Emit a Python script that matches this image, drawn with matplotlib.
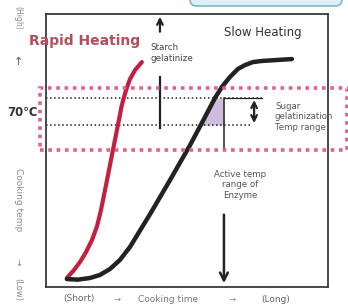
import matplotlib.pyplot as plt
import matplotlib.patches as mpatches
import numpy as np

# cooking time (0-100) vs cooking temp (0-100)
slow_time = [7.4, 11.3, 15.6, 19.1, 22.7, 26.2, 29.8, 36.9, 44.0, 51.1, 56.4, 59.9,
             62.4, 65.2, 68.1, 70.6, 73.4, 76.6, 87.2]
slow_temp = [2.9, 2.7, 3.3, 4.4, 6.6, 9.9, 14.7, 26.7, 39.2, 52.0, 62.3, 69.2,
             73.3, 76.9, 79.9, 81.3, 82.4, 82.8, 83.5]
rapid_time = [7.4, 9.9, 12.1, 14.2, 16.3, 18.1, 19.5, 21.3, 23.4, 25.5, 26.9, 28.4,
              29.8, 31.6, 34.0]
rapid_temp = [3.3, 6.2, 9.2, 12.8, 17.2, 22.3, 28.2, 37.4, 48.4, 59.3, 66.7, 72.2,
              76.2, 79.5, 82.4]

sugar_range = [59.3, 69.2]      # sugar gelatinization temp range
enzyme_range = [50.2, 72.9]     # active temp range of enzyme (pink box)
starch_time = 40.4
enzyme_time = 63.1

W, H = 348, 308
fig = plt.figure(figsize=(W / 100, H / 100), dpi=100)
fig.patch.set_facecolor('white')
ax = fig.add_axes([46 / W, 1 - 287 / H, 282 / W, 273 / H])
ax.set_xlim(0, 100)
ax.set_ylim(0, 100)
ax.set_xticks([])
ax.set_yticks([])
for s in ax.spines.values():
    s.set_color('#3a3a3a')
    s.set_linewidth(1.3)

# light blue box peeking in at the top
fig.patches.append(mpatches.FancyBboxPatch((190 / W, 1 - 6 / H), 152 / W, 20 / H,
                   boxstyle='round,pad=0,rounding_size=0.02', transform=fig.transFigure,
                   facecolor='#dcf0f5', edgecolor='#7fb8c8', lw=1.2))

# purple shade in the sugar range left of the enzyme line
band = np.linspace(sugar_range[0], sugar_range[1], 20)
ax.fill_betweenx(band, np.interp(band, slow_temp, slow_time), enzyme_time,
                 color='#8a5aa8', alpha=0.4, lw=0)

# curves
ax.plot(rapid_time, rapid_temp, color='#c3203f', lw=3, solid_capstyle='round',
        solid_joinstyle='round', zorder=3)
ax.plot(slow_time, slow_temp, color='#222222', lw=3.2, solid_capstyle='round',
        solid_joinstyle='round', zorder=3)

# sugar range dotted lines
ax.plot([0, 76.6], [sugar_range[1]] * 2, color='#222', lw=1.1, ls=':')
ax.plot([0, 72.3], [sugar_range[0]] * 2, color='#222', lw=1.1, ls=':')
ax.plot([enzyme_time, 76.6], [sugar_range[1]] * 2, color='#222', lw=0.9)

# pink dotted box for enzyme range
ax.add_patch(mpatches.Rectangle((-2.1, enzyme_range[0]), 108.8, enzyme_range[1] - enzyme_range[0],
             fill=False, edgecolor='#e06090', lw=2.6, ls=(0, (1, 1.3)), clip_on=False, zorder=4))

# starch gelatinize markers
ax.annotate('', xy=(starch_time, 100), xytext=(starch_time, 92.5),
            arrowprops=dict(arrowstyle='->', color='#222', lw=1.6))
ax.plot([starch_time] * 2, [58.2, 76.9], color='#222', lw=1.6)
ax.text(36.9, 85.7, 'Starch\ngelatinize', fontsize=6.3, color='#444', va='center', ha='left',
        linespacing=1.2)

# enzyme markers
ax.plot([enzyme_time] * 2, [sugar_range[1], 50.2], color='#222', lw=1.1)
ax.annotate('', xy=(enzyme_time, 0.4), xytext=(enzyme_time, 27.5),
            arrowprops=dict(arrowstyle='->', color='#222', lw=1.8, mutation_scale=14))
ax.text(68.8, 37.4, 'Active temp\nrange of\nEnzyme', fontsize=6.2, color='#555', ha='center',
        va='center', linespacing=1.25)

# sugar double arrow
ax.annotate('', xy=(73.8, 69.5), xytext=(73.8, 59.0),
            arrowprops=dict(arrowstyle='<->', color='#222', lw=1.6, mutation_scale=10))
ax.text(81.2, 62.3, 'Sugar\ngelatinization\nTemp range', fontsize=6.2, color='#555',
        ha='left', va='center', linespacing=1.2, clip_on=False)

# labels
ax.text(13.5, 90.1, 'Rapid Heating', fontsize=10, color='#b0505f', fontweight='bold',
        ha='center', va='center', clip_on=False)
ax.text(77.0, 93.4, 'Slow Heating', fontsize=8.5, color='#333', ha='center', va='center')
ax.text(-2.8, 64.1, '70℃', fontsize=8.5, color='#333', fontweight='bold', ha='right',
        va='center', clip_on=False)

# y label pieces
gray = '#8a8a8a'
fig.text(18 / W, 1 - 18 / H, '(High)', rotation=270, fontsize=5.5, color=gray, ha='center', va='center')
fig.text(18 / W, 1 - 62 / H, '↑', fontsize=8, color='#555', ha='center', va='center')
fig.text(18 / W, 1 - 200 / H, 'Cooking temp', rotation=270, fontsize=6.5, color=gray, ha='center', va='center')
fig.text(18 / W, 1 - 262 / H, '→', rotation=270, fontsize=6.5, color=gray, ha='center', va='center')
fig.text(18 / W, 1 - 290 / H, '(Low)', rotation=270, fontsize=6, color=gray, ha='center', va='center')

# x label pieces
fig.text(79 / W, 1 - 299 / H, '(Short)', fontsize=6.5, color='#666', ha='center', va='center')
fig.text(117 / W, 1 - 299 / H, '→', fontsize=6, color=gray, ha='center', va='center')
fig.text(168 / W, 1 - 299 / H, 'Cooking time', fontsize=6.5, color='#777', ha='center', va='center')
fig.text(232 / W, 1 - 299 / H, '→', fontsize=6, color=gray, ha='center', va='center')
fig.text(276 / W, 1 - 299 / H, '(Long)', fontsize=6.5, color='#666', ha='center', va='center')

fig.savefig('out.png', dpi=100, facecolor='white')
